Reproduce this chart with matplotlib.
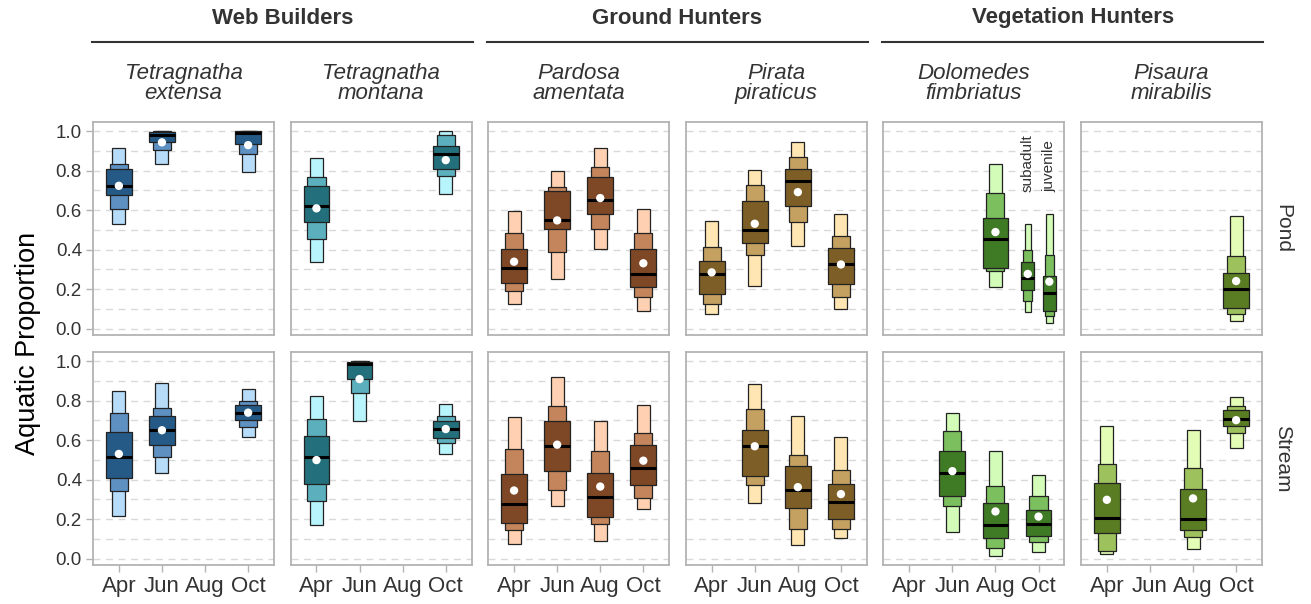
#!/usr/bin/env python3
"""Aquatic proportion of spider diets by month, habitat and hunting guild."""

import matplotlib.pyplot as plt
from matplotlib.lines import Line2D
from matplotlib.ticker import MultipleLocator

plt.rcParams["font.family"] = ["Liberation Sans", "DejaVu Sans"]

MONTHS = ["Apr", "Jun", "Aug", "Oct"]
HABITATS = ["Pond", "Stream"]
SPECIES = [
    "Tetragnatha\nextensa",
    "Tetragnatha\nmontana",
    "Pardosa\namentata",
    "Pirata\npiraticus",
    "Dolomedes\nfimbriatus",
    "Pisaura\nmirabilis",
]
GUILDS = ["Web Builders", "Ground Hunters", "Vegetation Hunters"]

# (month, q2.5, q10, q25, median, mean, q75, q90, q97.5)
pond_extensa = [
    ("Apr", 0.530, 0.604, 0.675, 0.722, 0.723, 0.808, 0.831, 0.916),
    ("Jun", 0.833, 0.902, 0.943, 0.980, 0.943, 0.997, 0.999, 1.000),
    ("Oct", 0.791, 0.882, 0.933, 0.988, 0.929, 0.998, 0.999, 1.000),
]
pond_montana = [
    ("Apr", 0.337, 0.454, 0.538, 0.619, 0.609, 0.720, 0.766, 0.865),
    ("Oct", 0.683, 0.772, 0.806, 0.885, 0.853, 0.924, 0.978, 0.998),
]
pond_pardosa = [
    ("Apr", 0.123, 0.192, 0.229, 0.309, 0.339, 0.403, 0.482, 0.597),
    ("Jun", 0.250, 0.390, 0.503, 0.551, 0.548, 0.695, 0.715, 0.799),
    ("Aug", 0.403, 0.506, 0.578, 0.653, 0.661, 0.767, 0.818, 0.912),
    ("Oct", 0.089, 0.160, 0.212, 0.278, 0.331, 0.403, 0.482, 0.607),
]
pond_pirata = [
    ("Apr", 0.074, 0.125, 0.175, 0.278, 0.285, 0.342, 0.415, 0.545),
    ("Jun", 0.218, 0.373, 0.435, 0.501, 0.531, 0.646, 0.725, 0.804),
    ("Aug", 0.417, 0.541, 0.619, 0.749, 0.691, 0.809, 0.867, 0.944),
    ("Oct", 0.098, 0.160, 0.224, 0.327, 0.325, 0.406, 0.467, 0.580),
]
pond_dolomedes = [
    ("Aug", 0.212, 0.292, 0.309, 0.454, 0.489, 0.558, 0.688, 0.835),
]
# Oct pond Dolomedes split by life stage
pond_dolomedes_stages = [
    ("Oct", "subadult", 0.083, 0.142, 0.194, 0.258, 0.277, 0.339, 0.396, 0.528),
    ("Oct", "juvenile", 0.027, 0.064, 0.088, 0.182, 0.238, 0.268, 0.374, 0.578),
]
pond_pisaura = [
    ("Oct", 0.040, 0.073, 0.103, 0.202, 0.241, 0.280, 0.366, 0.570),
]

stream_extensa = [
    ("Apr", 0.217, 0.345, 0.409, 0.516, 0.530, 0.641, 0.738, 0.848),
    ("Jun", 0.435, 0.513, 0.577, 0.651, 0.650, 0.721, 0.765, 0.890),
    ("Oct", 0.618, 0.665, 0.701, 0.738, 0.739, 0.777, 0.800, 0.861),
]
stream_montana = [
    ("Apr", 0.171, 0.291, 0.379, 0.516, 0.499, 0.621, 0.706, 0.822),
    ("Jun", 0.699, 0.841, 0.909, 0.983, 0.909, 0.997, 0.999, 1.000),
    ("Oct", 0.531, 0.584, 0.613, 0.658, 0.656, 0.695, 0.721, 0.785),
]
stream_pardosa = [
    ("Apr", 0.076, 0.147, 0.183, 0.277, 0.345, 0.430, 0.557, 0.719),
    ("Jun", 0.267, 0.349, 0.445, 0.569, 0.577, 0.697, 0.772, 0.917),
    ("Aug", 0.088, 0.176, 0.212, 0.311, 0.365, 0.435, 0.545, 0.697),
    ("Oct", 0.249, 0.305, 0.374, 0.457, 0.496, 0.575, 0.638, 0.780),
]
stream_pirata = [
    ("Jun", 0.281, 0.371, 0.418, 0.572, 0.569, 0.650, 0.755, 0.883),
    ("Aug", 0.069, 0.152, 0.255, 0.350, 0.362, 0.467, 0.526, 0.724),
    ("Oct", 0.103, 0.149, 0.203, 0.286, 0.327, 0.377, 0.450, 0.616),
]
stream_dolomedes = [
    ("Jun", 0.134, 0.266, 0.318, 0.433, 0.443, 0.545, 0.646, 0.736),
    ("Aug", 0.015, 0.052, 0.103, 0.168, 0.239, 0.283, 0.367, 0.543),
    ("Oct", 0.034, 0.085, 0.113, 0.178, 0.213, 0.245, 0.316, 0.423),
]
stream_pisaura = [
    ("Apr", 0.024, 0.037, 0.129, 0.206, 0.298, 0.381, 0.477, 0.673),
    ("Aug", 0.051, 0.108, 0.146, 0.201, 0.305, 0.354, 0.460, 0.653),
    ("Oct", 0.562, 0.635, 0.670, 0.707, 0.701, 0.750, 0.775, 0.819),
]

PANELS = [
    [pond_extensa, pond_montana, pond_pardosa, pond_pirata, pond_dolomedes, pond_pisaura],
    [stream_extensa, stream_montana, stream_pardosa, stream_pirata, stream_dolomedes, stream_pisaura],
]

# (dark 50%, mid 80%, light 95%) per species
PALETTES = [
    ("#255A86", "#5E90C1", "#B6DCFA"),
    ("#236F7B", "#5CB0BD", "#B8F4FB"),
    ("#7E4726", "#C4855D", "#FFD1B2"),
    ("#7D5E27", "#C4A061", "#FFE6B2"),
    ("#3F7A25", "#7BBF5E", "#D2FCB8"),
    ("#5A7D24", "#9DC15C", "#E3FCB6"),
]

EDGE = "#222222"
FRAME = "#B3B3B3"
TEXT = "#333333"
WIDTHS = (0.30, 0.42, 0.60)  # 95%, 80%, 50% boxes


def draw_interval(ax, x, row, colors, scale=1.0):
    lo95, lo80, lo50, med, mean, hi50, hi80, hi95 = row
    light, mid, dark = colors[2], colors[1], colors[0]
    for (lo, hi), w, c in zip(
        [(lo95, hi95), (lo80, hi80), (lo50, hi50)], WIDTHS, [light, mid, dark]
    ):
        ax.bar(x, hi - lo, bottom=lo, width=w * scale, color=c,
               edgecolor=EDGE, linewidth=0.9, zorder=3)
    half = WIDTHS[2] * scale / 2
    ax.plot([x - half, x + half], [med, med], color="black", lw=2.2,
            solid_capstyle="butt", zorder=4)
    ax.scatter([x], [mean], s=36, color="white", edgecolors="none", zorder=5)


fig = plt.figure(figsize=(13.11, 6.04), dpi=100)
W, H = 1311, 604
left0, step, pw = 93, 197.6, 181
tops = [122, 352]
ph = 213

axes = []
for r in range(2):
    row_axes = []
    for c in range(6):
        x0 = left0 + c * step
        ax = fig.add_axes([x0 / W, 1 - (tops[r] + ph) / H, pw / W, ph / H])
        ax.set_xlim(-0.6, 3.6)
        ax.set_ylim(-0.032, 1.046)
        ax.yaxis.set_major_locator(MultipleLocator(0.2))
        ax.yaxis.set_minor_locator(MultipleLocator(0.1))
        ax.grid(axis="y", which="both", color="#D9D9D9", linestyle=(0, (5, 4)),
                linewidth=1.0, zorder=0)
        ax.set_axisbelow(True)
        for sp in ax.spines.values():
            sp.set_color(FRAME)
            sp.set_linewidth(1.3)
        ax.tick_params(which="minor", length=0)
        ax.tick_params(axis="both", colors=FRAME, length=5, width=1.0)
        ax.set_xticks(range(len(MONTHS)))
        if r == 1:
            ax.set_xticklabels(MONTHS, fontsize=16, color=TEXT)
            ax.tick_params(axis="x", pad=3)
        else:
            ax.tick_params(axis="x", length=0, labelbottom=False)
        if c == 0:
            ax.set_yticklabels([f"{v:.1f}" for v in ax.get_yticks()],
                               fontsize=13.5, color=TEXT)
            ax.tick_params(axis="y", pad=3)
        else:
            ax.tick_params(axis="y", length=0, labelleft=False)

        for entry in PANELS[r][c]:
            draw_interval(ax, MONTHS.index(entry[0]), entry[1:], PALETTES[c])
        row_axes.append(ax)
    axes.append(row_axes)

# dodged life stages for pond Dolomedes in October
ax = axes[0][4]
for i, entry in enumerate(pond_dolomedes_stages):
    x = MONTHS.index(entry[0]) + (-0.25 if i == 0 else 0.25)
    draw_interval(ax, x, entry[2:], PALETTES[4], scale=0.5)
    ax.text(x, 0.69, entry[1], rotation=90, ha="center", va="bottom",
            fontsize=11, color=TEXT, zorder=6)

# species strips
for c, name in enumerate(SPECIES):
    axes[0][c].text(0.5, 1.18, name, transform=axes[0][c].transAxes,
                    ha="center", va="center", fontsize=16, style="italic",
                    color=TEXT, linespacing=0.95)

# habitat strips
for r, hab in enumerate(HABITATS):
    yc = 1 - (tops[r] + ph / 2) / H
    fig.text(1283 / W, yc, hab, rotation=-90, ha="center", va="center",
             fontsize=15, color=TEXT)

# guild headers spanning pairs of species
for g, guild in enumerate(GUILDS):
    xa = left0 + 2 * g * step - 1
    xb = left0 + (2 * g + 1) * step + pw + 1
    fig.add_artist(Line2D([xa / W, xb / W], [1 - 42 / H, 1 - 42 / H],
                          color=TEXT, lw=1.5))
    fig.text((xa + xb) / 2 / W, 1 - 18 / H, guild, ha="center", va="center",
             fontsize=16, fontweight="bold", color=TEXT)

fig.text(28 / W, 1 - 343 / H, "Aquatic Proportion", rotation=90,
         ha="center", va="center", fontsize=19.5, color="black")

fig.savefig("out.png", dpi=100, facecolor="white")
